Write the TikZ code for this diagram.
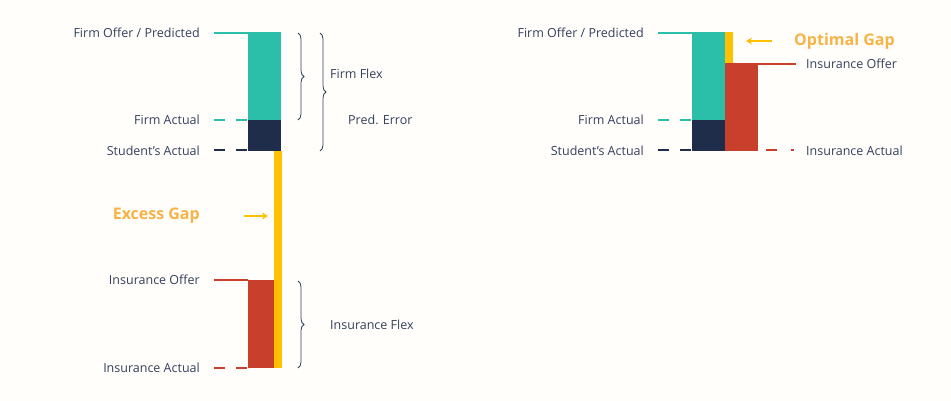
\documentclass[tikz,border=0pt]{standalone}
\usepackage{fontspec}
\setmainfont{Open Sans}
\usetikzlibrary{decorations.pathreplacing,arrows.meta}
\definecolor{bg}{HTML}{FFFEFA}
\definecolor{teal}{HTML}{2BBFA9}
\definecolor{navy}{HTML}{1F2D4A}
\definecolor{red}{HTML}{C8402B}
\definecolor{yel}{HTML}{FFC000}
\definecolor{org}{HTML}{F7B347}
\definecolor{txt}{HTML}{34405E}
\begin{document}
\begin{tikzpicture}[x=1pt,y=-1pt,
 lab/.style={font=\fontsize{12.5}{14}\selectfont,text=txt,inner sep=0},
 ll/.style={lab,anchor=east},
 rl/.style={lab,anchor=west},
 big/.style={font=\fontsize{16}{18}\selectfont\bfseries,text=org,inner sep=0},
 dsh/.style={line width=2.2pt,dash pattern=on 11pt off 11pt},
 sol/.style={line width=2.2pt},
 br/.style={draw=txt,line width=0.8pt,decorate,decoration={brace,amplitude=6pt}},
 arr/.style={draw=yel,line width=2pt,-{Stealth[length=6pt,width=7pt]}}]
\fill[bg] (0,0) rectangle (951,401);
\useasboundingbox (0,0) rectangle (951,401);
% left
\fill[teal] (248,32) rectangle (281,120);
\fill[navy] (248,120) rectangle (281,151);
\fill[yel] (274,151) rectangle (282,368);
\fill[red] (248,280) rectangle (274,368);
\draw[sol,teal] (214,33) -- (248,33);
\draw[dsh,teal] (214,120) -- (248,120);
\draw[dsh,navy] (214,150) -- (248,150);
\draw[sol,red] (214,280) -- (248,280);
\draw[dsh,red] (214,368) -- (248,368);
\node[ll] (fo) at (200,33) {Firm Offer / Predicted};
\node[ll] (fa) at (200,120) {Firm Actual};
\node[ll] (sa) at (200,151) {Student’s Actual};
\node[ll] (io) at (200,280) {Insurance Offer};
\node[ll] (ia) at (200,368) {Insurance Actual};
\node[big,anchor=east] (eg) at (200,216) {Excess Gap};
\coordinate (ea) at (244,216); \coordinate (eb) at (268,216);
\draw[arr] (ea) -- (eb);
\coordinate (b1a) at (298,33); \coordinate (b1b) at (298,120);
\draw[br] (b1a) -- (b1b);
\coordinate (b2a) at (320,33); \coordinate (b2b) at (320,151);
\draw[br] (b2a) -- (b2b);
\coordinate (b3a) at (298,281); \coordinate (b3b) at (298,368);
\draw[br] (b3a) -- (b3b);
\node[rl] (ff) at (330,74) {Firm Flex};
\node[rl] (pe) at (348,120) {Pred. Error};
\node[rl] (if) at (330,325) {Insurance Flex};
% right
\fill[teal] (692,32) rectangle (725,120);
\fill[navy] (692,120) rectangle (725,151);
\fill[yel] (725,32) rectangle (733,64);
\fill[red] (725,63) rectangle (758,151);
\draw[sol,red] (725,64) -- (796,64);
\draw[sol,teal] (658,33) -- (692,33);
\draw[dsh,teal] (658,120) -- (692,120);
\draw[dsh,navy] (658,150) -- (692,150);
\draw[red,line width=2.2pt,dash pattern=on 0pt off 8pt on 11pt off 14pt on 3pt off 20pt] (758,150) -- (796,150);
\node[ll] (fo2) at (644,33) {Firm Offer / Predicted};
\node[ll] (fa2) at (644,120) {Firm Actual};
\node[ll] (sa2) at (644,151) {Student’s Actual};
\node[rl] (io2) at (806,64) {Insurance Offer};
\node[rl] (ia2) at (806,151) {Insurance Actual};
\node[big,anchor=west] (og) at (794,41) {Optimal Gap};
\coordinate (oa) at (772,41); \coordinate (ob) at (746,41);
\draw[arr] (oa) -- (ob);
\end{tikzpicture}
\end{document}
